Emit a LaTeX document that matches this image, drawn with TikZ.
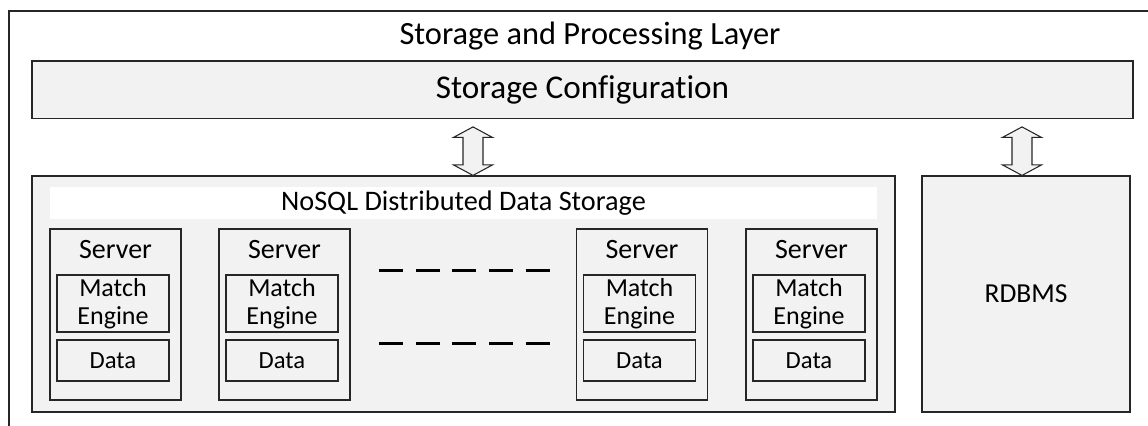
\documentclass[tikz,border=0pt]{standalone}
\usepackage{fontspec}
\setmainfont{Carlito}[Ligatures=NoCommon]
\definecolor{boxgray}{HTML}{F2F2F2}
\definecolor{linegray}{HTML}{262626}
\tikzstyle{box} = [draw=linegray, line width=0.9pt, fill=boxgray, inner sep=0pt]
\tikzstyle{inbox} = [draw=linegray, line width=0.8pt, fill=boxgray, inner sep=0pt, align=center]
\tikzstyle{blockarrow} = [draw=linegray, line width=0.8pt, fill=boxgray, line join=miter]
\tikzstyle{dots} = [line width=2.25pt, dash pattern=on 18pt off 9.5pt]

\begin{document}
\begin{tikzpicture}[x=0.75pt, y=-0.75pt]
\useasboundingbox (0,0) rectangle (1148,425);
\clip (0,0) rectangle (1148,425);

\draw[linegray, line width=0.9pt] (9,440) -- (9,11) -- (1160,11);
\node[font=\fontsize{24.3}{28}\selectfont] (layer) at (590,36) {Storage and Processing Layer};

\node[box, minimum width=825.75pt, minimum height=43.1pt, font=\fontsize{24.9}{28}\selectfont] (config) at (582.5,89.75) {Storage Configuration};

\node[box, minimum width=647.25pt, minimum height=177pt] (nosql) at (463.5,294) {};
\node[fill=white, inner sep=0pt, minimum width=620.25pt, minimum height=24pt, font=\fontsize{21.2}{24}\selectfont] (band) at (463.5,203) {NoSQL Distributed Data Storage};
\node[box, minimum width=156pt, minimum height=177pt, font=\fontsize{20.6}{24}\selectfont] (rdbms) at (1026,294) {RDBMS};

\foreach \target/\dx in {nosql/7.125pt, rdbms/-3pt} {
\draw[blockarrow] ([xshift=\dx]\target.north) -- ++(-19.5,-10.5) -- ++(9.5,0) -- ++(0,-27.5) -- ++(-9.5,0)
-- ++(19.5,-10.5) -- ++(19.5,10.5) -- ++(-9.5,0) -- ++(0,27.5) -- ++(9.5,0) -- cycle;
}

\foreach \x [count=\i] in {115.5, 284.5, 642, 811.5} {
\node[inbox, minimum width=98.25pt, minimum height=128.25pt] (server\i) at (\x,314.5) {};
\node[anchor=north, inner sep=0pt, font=\fontsize{21}{24}\selectfont] (name\i) at ([yshift=-8.8pt]server\i.north) {Server};
\node[inbox, minimum width=84pt, minimum height=42.75pt, font=\fontsize{19.5}{21.4}\selectfont] (engine\i) at (\x-2.5,303.5) {Match\\Engine};
\node[inbox, minimum width=84pt, minimum height=30.75pt, font=\fontsize{18.5}{20}\selectfont] (data\i) at (\x-2.5,360.5) {Data};
}

\draw[dots] (379,270) -- (550,270);
\draw[dots] (379,343.7) -- (550,343.7);
\end{tikzpicture}
\end{document}
